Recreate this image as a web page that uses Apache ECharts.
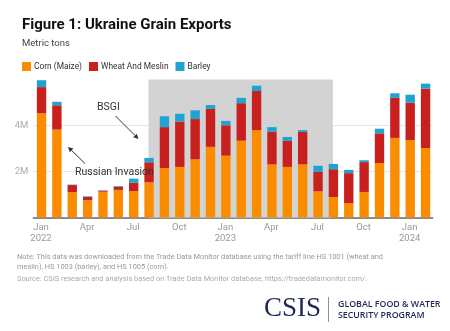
<!DOCTYPE html>
<html>
<head>
<meta charset="utf-8">
<script src="https://cdn.jsdelivr.net/npm/echarts@6/dist/echarts.min.js"></script>
<style>
  html, body { margin: 0; padding: 0; background: #fff; }
  #chart { width: 450px; height: 331px; }
</style>
</head>
<body>
<div id="chart"></div>
<script>
// Monthly Ukrainian grain exports, metric tons
const months = [
  'Jan 2022','Feb 2022','Mar 2022','Apr 2022','May 2022','Jun 2022',
  'Jul 2022','Aug 2022','Sep 2022','Oct 2022','Nov 2022','Dec 2022',
  'Jan 2023','Feb 2023','Mar 2023','Apr 2023','May 2023','Jun 2023',
  'Jul 2023','Aug 2023','Sep 2023','Oct 2023','Nov 2023','Dec 2023',
  'Jan 2024','Feb 2024'
];
const corn = [
  4530000, 3820000, 1100000, 750000, 1120000, 1200000,
  1140000, 1530000, 2150000, 2200000, 2530000, 3070000,
  2690000, 3340000, 3800000, 2310000, 2200000, 2310000,
  1140000, 890000, 620000, 1110000, 2370000, 3460000,
  3370000, 3020000
];
const wheat = [
  1140000, 1060000, 310000, 140000, 50000, 140000,
  370000, 870000, 1780000, 1970000, 1750000, 1650000,
  1320000, 1630000, 1700000, 1420000, 1130000, 1420000,
  840000, 1210000, 1310000, 1300000, 1290000, 1740000,
  1620000, 2580000
];
const barley = [
  300000, 150000, 20000, 30000, 10000, 30000,
  180000, 190000, 470000, 340000, 380000, 170000,
  190000, 230000, 230000, 200000, 170000, 70000,
  270000, 230000, 140000, 80000, 200000, 200000,
  350000, 220000
];
const seriesNames = ['Corn (Maize)', 'Wheat And Meslin', 'Barley'];
const colors = ['#fb8c00', '#c8201f', '#1fa3d3'];
const bsgiPeriod = ['Aug 2022', 'Jul 2023'];
const yTicks = [0, 2000000, 4000000, 6000000];

const chart = echarts.init(document.getElementById('chart'), null, { renderer: 'canvas' });

const FONT = 'Roboto';

function arrow(x1, y1, x2, y2) {
  const dx = x2 - x1, dy = y2 - y1;
  const len = Math.sqrt(dx * dx + dy * dy);
  const ux = dx / len, uy = dy / len;
  const hl = 5, hw = 2.6;
  const bx = x2 - ux * hl, by = y2 - uy * hl;
  return [
    { type: 'line', shape: { x1: x1, y1: y1, x2: bx, y2: by },
      style: { stroke: '#333', lineWidth: 1 }, z: 10 },
    { type: 'polygon', shape: { points: [[x2, y2], [bx - uy * hw, by + ux * hw], [bx + uy * hw, by - ux * hw]] },
      style: { fill: '#333' }, z: 10 }
  ];
}

function grainSeries(i, values) {
  return {
    name: seriesNames[i], type: 'bar', stack: 'grain', barWidth: '61%', z: 3,
    itemStyle: { color: colors[i] },
    data: values
  };
}

const option = {
  animation: false,
  backgroundColor: '#fff',
  title: [
    { text: 'Figure 1: Ukraine Grain Exports', left: 17, top: 13,
      textStyle: { fontFamily: FONT, fontSize: 15, fontWeight: 'bold', color: '#111' } },
    { text: 'Metric tons', left: 17, top: 34,
      textStyle: { fontFamily: FONT, fontSize: 9.5, fontWeight: 'normal', color: '#444' } }
  ],
  legend: {
    left: 17, top: 57,
    icon: 'rect', itemWidth: 9, itemHeight: 9, itemGap: 7,
    textStyle: { fontFamily: FONT, fontSize: 8.4, color: '#333', padding: [0, 0, 0, -2] },
    data: seriesNames
  },
  grid: { left: 33.3, right: 17.3, top: 79.5, bottom: 113.5, containLabel: false },
  xAxis: {
    type: 'category',
    data: months,
    axisLine: { show: true, lineStyle: { color: '#666', width: 1.5 } },
    axisTick: { show: false },
    axisLabel: {
      interval: 2,
      margin: 5,
      fontFamily: FONT, fontSize: 9.5, color: '#999', lineHeight: 11,
      formatter: function (v) {
        const p = v.split(' ');
        return p[0] === 'Jan' ? p[0] + '\n' + p[1] : p[0];
      }
    }
  },
  yAxis: {
    type: 'value',
    min: yTicks[0], max: yTicks[yTicks.length - 1], interval: yTicks[1] - yTicks[0],
    axisLine: { show: false },
    axisTick: { show: false },
    axisLabel: {
      margin: 5, fontFamily: FONT, fontSize: 9.5, color: '#aaa',
      formatter: function (v) {
        if (v === yTicks[0] || v === yTicks[yTicks.length - 1]) return '';
        return (v / 1000000) + 'M';
      }
    },
    splitLine: { show: true, lineStyle: { color: ['transparent', '#e6e6e6', '#e6e6e6', 'transparent'], width: 1 } }
  },
  series: [
    {
      name: 'BSGI period',
      type: 'bar',
      data: [],
      z: 1,
      silent: true,
      markArea: {
        silent: true,
        itemStyle: { color: '#d3d3d3' },
        data: [[{ xAxis: bsgiPeriod[0] }, { xAxis: bsgiPeriod[1] }]]
      }
    },
    grainSeries(0, corn),
    grainSeries(1, wheat),
    grainSeries(2, barley)
  ],
  graphic: [
    { type: 'text', left: 97, top: 102, z: 10,
      style: { text: 'BSGI', fontFamily: FONT, fontSize: 10.5, fill: '#333' } },
    { type: 'text', left: 75, top: 167, z: 10,
      style: { text: 'Russian Invasion', fontFamily: FONT, fontSize: 10.5, fill: '#333' } },
    ...arrow(115.5, 116, 138.5, 139),
    ...arrow(85, 163.5, 68, 147),
    { type: 'text', left: 17, top: 252, z: 10,
      style: { text: 'Note: This data was downloaded from the Trade Data Monitor database using the tariff line HS 1001 (wheat and\nmeslin), HS 1003 (barley), and HS 1005 (corn).',
        fontFamily: FONT, fontSize: 7.4, lineHeight: 10, fill: '#999' } },
    { type: 'text', left: 17, top: 276, z: 10,
      style: { text: 'Source: CSIS research and analysis based on Trade Data Monitor database, https://tradedatamonitor.com/.',
        fontFamily: FONT, fontSize: 7.4, fill: '#aaa' } },
    { type: 'text', left: 264, top: 295, z: 10,
      style: { text: 'CSIS', fontFamily: 'Liberation Serif', fontSize: 27, fill: '#1e2a56' } },
    { type: 'line', shape: { x1: 328.5, y1: 297, x2: 328.5, y2: 322 },
      style: { stroke: '#8a8fa3', lineWidth: 1 } },
    { type: 'text', left: 338, top: 299, z: 10,
      style: { text: 'GLOBAL FOOD & WATER\nSECURITY PROGRAM', fontFamily: 'Open Sans', fontSize: 8.8,
        fontWeight: 600, lineHeight: 11, fill: '#1e2a56' } }
  ]
};

chart.setOption(option);
</script>
</body>
</html>
